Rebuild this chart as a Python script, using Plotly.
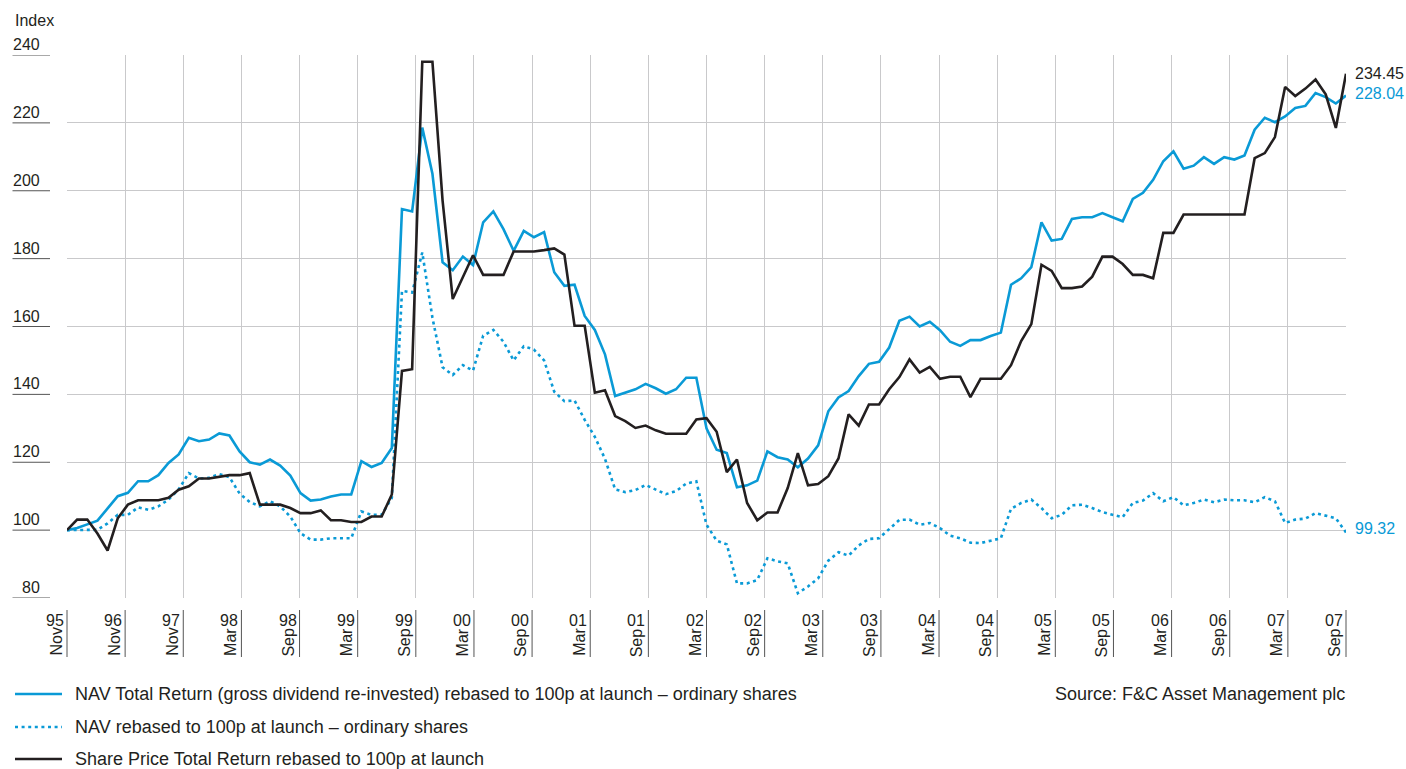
import numpy as np
import plotly.graph_objects as go

# ---------------- data ----------------
years = ["95", "96", "97", "98", "98", "99", "99", "00", "00", "01", "01", "02",
         "02", "03", "03", "04", "04", "05", "05", "06", "06", "07", "07"]
months = ["Nov", "Nov", "Nov", "Mar", "Sep", "Mar", "Sep", "Mar", "Sep", "Mar", "Sep", "Mar",
          "Sep", "Mar", "Sep", "Mar", "Sep", "Mar", "Sep", "Mar", "Sep", "Mar", "Sep"]

nav_tr = [100.0, 100.6, 101.7, 102.8, 106.4, 110.0, 111.0, 114.4, 114.4, 116.2,
          119.8, 122.3, 127.2, 126.2, 126.7, 128.5, 127.9, 123.2, 120.0, 119.3,
          120.8, 119.0, 116.1, 110.9, 108.7, 109.0, 109.9, 110.5, 110.5, 120.3,
          118.6, 119.8, 124.2, 194.6, 193.9, 218.6, 205.0, 178.9, 176.6, 180.6,
          178.1, 190.7, 193.9, 188.7, 182.3, 188.2, 186.3, 187.8, 176.0, 172.0,
          172.3, 163.1, 159.0, 151.8, 139.5, 140.5, 141.5, 143.1, 141.8, 140.2,
          141.5, 144.9, 144.9, 130.0, 123.7, 122.7, 112.6, 113.2, 114.6, 123.2,
          121.5, 120.8, 118.5, 121.1, 125.0, 135.0, 139.1, 141.0, 145.4, 149.0,
          149.6, 153.8, 161.7, 162.9, 160.0, 161.4, 158.9, 155.5, 154.3, 156.0,
          156.0, 157.2, 158.2, 172.3, 174.2, 177.5, 190.7, 185.3, 185.8, 191.7,
          192.2, 192.2, 193.4, 192.2, 191.0, 197.6, 199.4, 203.2, 208.7, 211.6,
          206.5, 207.4, 209.9, 207.9, 209.9, 209.2, 210.4, 218.0, 221.5, 220.2,
          221.9, 224.4, 225.0, 228.8, 227.6, 225.7, 228.04]

nav = [100.0, 100.1, 100.1, 100.1, 102.0, 104.5, 104.5, 106.7, 106.0, 107.0,
       109.0, 112.0, 116.8, 115.2, 115.4, 116.5, 115.6, 110.8, 108.3, 107.0,
       108.5, 107.0, 104.0, 99.1, 97.2, 97.2, 97.6, 97.6, 97.6, 105.5,
       104.5, 104.5, 109.5, 170.5, 170.0, 181.8, 162.6, 148.0, 145.7, 148.6,
       147.0, 157.3, 159.0, 155.5, 150.0, 154.2, 153.2, 150.0, 140.8, 138.0,
       138.2, 132.5, 127.5, 121.0, 112.0, 111.2, 111.8, 113.3, 112.0, 110.6,
       111.5, 113.7, 114.4, 101.6, 96.9, 95.8, 84.3, 84.3, 85.3, 91.7,
       90.8, 90.2, 81.4, 83.4, 85.8, 91.0, 93.5, 92.5, 95.5, 97.4,
       97.6, 100.4, 103.0, 103.1, 101.6, 102.1, 100.6, 98.4, 97.6, 96.3,
       96.2, 96.9, 97.6, 106.3, 108.0, 109.0, 106.5, 103.5, 104.5, 107.3,
       107.5, 106.5, 105.3, 104.5, 103.8, 108.0, 108.7, 110.9, 108.5, 109.7,
       107.3, 108.0, 109.0, 108.2, 109.0, 108.8, 108.8, 108.2, 109.7, 108.5,
       102.1, 103.1, 103.4, 105.0, 104.3, 103.5, 99.32]

share = [100.0, 103.1, 103.1, 99.0, 94.0, 103.5, 107.5, 108.8, 108.8, 108.8,
         109.5, 111.9, 112.9, 115.2, 115.2, 115.7, 116.2, 116.2, 116.8, 107.5,
         107.5, 107.5, 106.5, 105.0, 105.0, 105.8, 102.9, 102.9, 102.4, 102.4,
         104.0, 104.0, 110.5, 146.9, 147.4, 238.0, 238.0, 197.1, 168.1, 174.5,
         181.0, 175.2, 175.2, 175.2, 182.1, 182.1, 182.1, 182.5, 183.0, 181.2,
         160.2, 160.2, 140.5, 141.2, 133.6, 132.1, 130.1, 130.8, 129.4, 128.4,
         128.4, 128.4, 132.6, 133.0, 129.0, 117.1, 120.8, 108.0, 102.9, 105.2,
         105.2, 112.4, 122.7, 113.2, 113.6, 115.9, 121.1, 134.1, 130.8, 137.0,
         137.0, 141.5, 145.1, 150.3, 146.4, 148.1, 144.6, 145.2, 145.2, 139.2,
         144.6, 144.6, 144.6, 148.6, 155.7, 160.7, 178.2, 176.4, 171.3, 171.3,
         171.8, 174.7, 180.6, 180.6, 178.4, 175.2, 175.2, 174.2, 187.6, 187.6,
         193.0, 193.0, 193.0, 193.0, 193.0, 193.0, 193.0, 209.6, 211.1, 215.8,
         230.6, 227.9, 230.1, 232.8, 228.4, 218.5, 234.45]

y_ticks = [80, 100, 120, 140, 160, 180, 200, 220, 240]

series_names = [
    "NAV Total Return (gross dividend re-invested) rebased to 100p at launch \u2013 ordinary shares",
    "NAV rebased to 100p at launch \u2013 ordinary shares",
    "Share Price Total Return rebased to 100p at launch",
]

# ---------------- styling ----------------
BLUE = "#0a9ad6"
BLACK = "#231f20"
TEXT = "#231f20"
GRID = "#c9c9cb"
FONT = "Liberation Sans, Arial, sans-serif"

n_int = len(years) - 1
x = np.linspace(0, n_int, len(nav_tr))

fig = go.Figure()
fig.add_trace(go.Scatter(x=x, y=nav, mode="lines", name=series_names[1],
                         line=dict(color=BLUE, width=2.6, dash="3px,3.6px"),
                         showlegend=False))
fig.add_trace(go.Scatter(x=x, y=nav_tr, mode="lines", name=series_names[0],
                         line=dict(color=BLUE, width=2.6), showlegend=False))
fig.add_trace(go.Scatter(x=x, y=share, mode="lines", name=series_names[2],
                         line=dict(color=BLACK, width=2.6), showlegend=False))

L, R, T, B = 67, 60, 55, 171
W, H = 1406, 769
pw, ph = W - L - R, H - T - B


def px_x(p):
    return (p - L) / pw


def px_y(p):
    return (H - B - p) / ph


annotations = []
shapes = []

# y tick labels with underline
for v in y_ticks:
    annotations.append(dict(x=px_x(42), xref="paper", y=v, yref="y", text=str(v),
                            showarrow=False, xanchor="right", yanchor="bottom", yshift=0,
                            font=dict(family=FONT, size=16, color=TEXT)))
    shapes.append(dict(type="line", xref="paper", yref="y", x0=px_x(12.5), x1=px_x(50),
                       y0=v, y1=v, line=dict(color="#555555", width=1)))

annotations.append(dict(x=px_x(13), xref="paper", y=px_y(20), yref="paper", text="Index",
                        showarrow=False, xanchor="left", yanchor="middle",
                        font=dict(family=FONT, size=16, color=TEXT)))

# x tick labels: year upright, month rotated, tick line on the right
for k, (yy, mm) in enumerate(zip(years, months)):
    annotations.append(dict(x=k, xref="x", y=px_y(610), yref="paper", text=yy,
                            showarrow=False, xanchor="right", yanchor="top", xshift=-1,
                            font=dict(family=FONT, size=16, color=TEXT)))
    annotations.append(dict(x=k, xref="x", y=px_y(626), yref="paper", text=mm,
                            showarrow=False, xanchor="right", yanchor="top", xshift=-1,
                            textangle=-90, font=dict(family=FONT, size=16, color=TEXT)))
    shapes.append(dict(type="line", xref="paper", yref="paper", x0=k / n_int, x1=k / n_int,
                       y0=px_y(610), y1=px_y(657), line=dict(color="#555555", width=1)))

# end value labels
annotations.append(dict(x=n_int, xref="x", y=share[-1], yref="y", text=f"{share[-1]:.2f}",
                        showarrow=False, xanchor="left", yanchor="middle", xshift=7, yshift=0,
                        font=dict(family=FONT, size=16, color=BLACK)))
annotations.append(dict(x=n_int, xref="x", y=nav_tr[-1], yref="y", text=f"{nav_tr[-1]:.2f}",
                        showarrow=False, xanchor="left", yanchor="middle", xshift=7, yshift=2,
                        font=dict(family=FONT, size=16, color=BLUE)))
annotations.append(dict(x=n_int, xref="x", y=nav[-1], yref="y", text=f"{nav[-1]:.2f}",
                        showarrow=False, xanchor="left", yanchor="middle", xshift=7, yshift=4,
                        font=dict(family=FONT, size=16, color=BLUE)))

# custom legend
leg_y = [694, 727, 759]
leg_style = [dict(color=BLUE, width=2.6), dict(color=BLUE, width=2.6, dash="3px,3.6px"),
             dict(color=BLACK, width=2.6)]
for name, yy, st in zip(series_names, leg_y, leg_style):
    shapes.append(dict(type="line", xref="paper", yref="paper", x0=px_x(15), x1=px_x(62),
                       y0=px_y(yy), y1=px_y(yy), line=st))
    annotations.append(dict(x=px_x(73), xref="paper", y=px_y(yy), yref="paper", text=name,
                            showarrow=False, xanchor="left", yanchor="middle",
                            font=dict(family=FONT, size=18, color=TEXT)))

annotations.append(dict(x=px_x(1347), xref="paper", y=px_y(694), yref="paper",
                        text="Source: F&C Asset Management plc", showarrow=False,
                        xanchor="right", yanchor="middle",
                        font=dict(family=FONT, size=18, color=TEXT)))

fig.update_layout(
    width=W, height=H,
    margin=dict(l=L, r=R, t=T, b=B, pad=0),
    paper_bgcolor="white", plot_bgcolor="white",
    showlegend=False,
    xaxis=dict(range=[0, n_int], tickvals=list(range(n_int + 1)), showticklabels=False,
               showgrid=True, gridcolor=GRID, gridwidth=1, zeroline=False,
               showline=False, ticks=""),
    yaxis=dict(range=[80, 240], tickvals=y_ticks, showticklabels=False,
               showgrid=True, gridcolor=GRID, gridwidth=1, zeroline=False,
               showline=False, ticks=""),
    annotations=annotations,
    shapes=shapes,
)

fig.write_html(
    "out.html",
    config={"displayModeBar": False},
    post_script="document.body.style.margin='0';document.body.style.padding='0';"
                "document.documentElement.style.overflow='hidden';",
)
